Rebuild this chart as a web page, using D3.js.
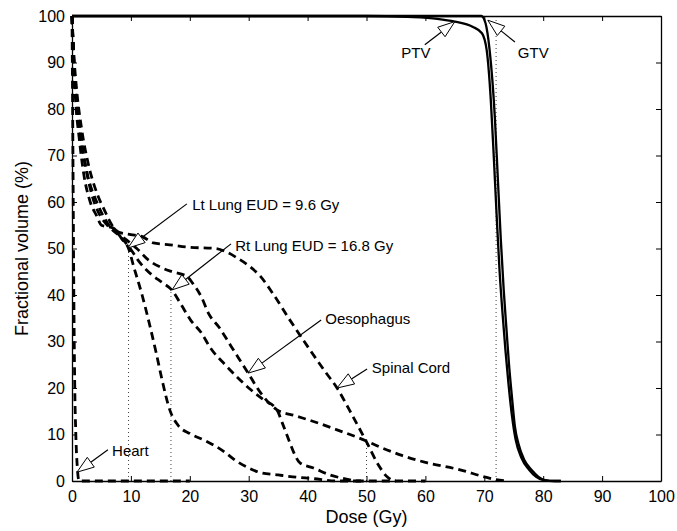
<!DOCTYPE html>
<html>
<head>
<meta charset="utf-8">
<script src="https://cdn.jsdelivr.net/npm/d3@7"></script>
<style>
  body { margin: 0; background: #fff; }
</style>
</head>
<body>
<div id="chart"></div>
<script>
// DVH curves, [dose (Gy), fractional volume (%)]
const heart = [[0,100],[0.1,82],[0.2,62],[0.3,42],[0.45,22],[0.65,10],[0.9,3],[1.2,0],[20,0]];
const lungLt = [[0,100],[0.3,90],[0.6,82],[1.2,74],[2,66],[3.1,60],[4.2,57],[5,55],[7,54.4],[8.5,52],
  [9.6,50],[10.5,46],[11.9,40],[13.2,33.5],[14.3,27.5],[15.3,21.7],[16.6,15.3],[18,12],[20,10.2],
  [22.6,8.7],[25.5,6.6],[28,4.2],[30,2.8],[32,1.8],[35,1.3],[37.5,0.9],[41,0.5],[45,0],[50,0]];
const lungRt = [[0,100],[0.3,91],[0.7,83],[1.4,75],[2.4,67],[3.5,61],[4.8,57],[6,55],[8,52.8],
  [9.6,50.5],[11.5,47],[13.6,44.3],[15.3,42.7],[17,41],[18.5,38],[20.2,34.5],[22,31.8],[23.4,28.8],
  [26,25],[28,22.4],[30,20],[32.5,17.5],[34.8,15.3],[35.7,12.5],[37,8.2],[37.7,6],[38.7,3.9],
  [41,2.8],[43.8,1.3],[47,0.3],[48,0],[55,0]];
const oesophagus = [[0,100],[0.3,90],[0.8,81],[1.6,73],[2.6,66],[4.2,60],[5.3,57],[6.5,54.6],
  [8,53],[9.6,51.5],[11,50],[13,47.5],[15,46],[17,45],[19.5,44],[20.5,42.5],[22,39.5],[23.2,36],
  [25,33],[27,29],[29.9,23.2],[32,19],[34.8,15.3],[38,14],[41,12.8],[45,11],[50,8.6],[52.3,7.3],
  [56,5.5],[60,4],[65.9,2.4],[70,0.9],[72,0.3],[74,0]];
const spinalCord = [[0,100],[0.3,92],[0.8,84],[1.6,76],[2.8,68],[4.2,62],[5.6,58],[6.8,55],[8,53.5],
  [10,53],[12,52.5],[13.8,51.2],[16.6,50.8],[19.5,50.3],[24.3,50],[26.3,49.2],[28,48],[30,46.3],
  [32,44],[34,40.5],[37,34.6],[40.4,28.2],[43,23.5],[45,20],[47,15.5],[50,8.4],[52,3.5],[53.5,0.9],
  [55,0],[60,0]];
const ptv = [[0,100],[50,100],[57,99.8],[62,99.4],[65,98.8],[68,97.7],[69.6,96.3],[70.4,92.7],
  [71.1,82],[71.6,70],[72.1,57],[72.6,45],[73.1,36],[73.6,28],[74.1,21],[74.7,14],[75.3,9],
  [76.3,5],[77.6,2.4],[78.8,0.9],[80,0.2],[82,0],[83,0]];
const gtv = [[0,100],[69.5,100],[70.2,98.5],[70.9,92.7],[71.8,78],[72.3,65],[72.8,52],[73.3,41],
  [73.8,32],[74.2,25],[74.7,18],[75.2,11.7],[75.8,8],[76.8,4.5],[78,2.4],[79.2,0.9],[80.3,0.2],
  [82,0],[83,0]];

// dotted markers: [dose, height]
const markers = [[9.6,50],[16.8,41],[50,8.5],[72,100]];

// annotations: text, text anchor point, line start, arrow tip (all in data units)
const labels = ['Lt Lung EUD = 9.6 Gy','Rt Lung EUD = 16.8 Gy','Oesophagus','Spinal Cord','Heart','PTV','GTV'];
const labelAt = [[20.4,59.4],[27.7,50.5],[43,35],[50.9,24.3],[6.8,6.5],[55.9,92],[75.7,92]];
const lineFrom = [[19.5,59.6],[27,51],[42.3,34.6],[50.1,24.1],[6.1,6.7],[59.9,93.8],[75.2,94.4]];
const arrowTip = [[9.5,50.1],[17,41.1],[29.9,23.2],[45,20],[0.85,1.9],[65,98.8],[70.6,99.1]];

const xTicks = d3.range(0, 101, 10);
const yTicks = d3.range(0, 101, 10);

const font = "'Liberation Sans', Arial, Helvetica, sans-serif";
const W = 677, H = 531;
const margin = { top: 16, right: 16, bottom: 50, left: 72 };

const svg = d3.select('#chart').append('svg')
  .attr('width', W).attr('height', H)
  .style('font-family', font);

const x = d3.scaleLinear().domain([0, 100]).range([margin.left, W - margin.right]);
const y = d3.scaleLinear().domain([0, 100]).range([H - margin.bottom, margin.top]);

// dotted EUD / prescription markers
svg.append('g').selectAll('line')
  .data(markers)
  .join('line')
  .attr('x1', d => x(d[0])).attr('x2', d => x(d[0]))
  .attr('y1', y(0)).attr('y2', d => y(d[1]))
  .attr('stroke', '#444').attr('stroke-width', 1)
  .attr('stroke-dasharray', '1,3');

const line = d3.line()
  .x(d => x(d[0]))
  .y(d => y(d[1]))
  .curve(d3.curveMonotoneX);

// organs at risk, dashed
svg.append('g').selectAll('path')
  .data([heart, lungLt, lungRt, oesophagus, spinalCord])
  .join('path')
  .attr('d', line)
  .attr('fill', 'none')
  .attr('stroke', '#000')
  .attr('stroke-width', 2.8)
  .attr('stroke-dasharray', '8,5');

// targets, solid
svg.append('g').selectAll('path')
  .data([ptv, gtv])
  .join('path')
  .attr('d', line)
  .attr('fill', 'none')
  .attr('stroke', '#000')
  .attr('stroke-width', 2.3);

// axes (matlab style: inward ticks on all sides)
const xAxis = svg.append('g')
  .attr('transform', `translate(0,${y(0)})`)
  .call(d3.axisBottom(x).tickValues(xTicks).tickSizeInner(-5).tickSizeOuter(0).tickPadding(10));
const yAxis = svg.append('g')
  .attr('transform', `translate(${x(0)},0)`)
  .call(d3.axisLeft(y).tickValues(yTicks).tickSizeInner(-5).tickSizeOuter(0).tickPadding(7));
svg.append('g')
  .attr('transform', `translate(0,${y(100)})`)
  .call(d3.axisTop(x).tickValues(xTicks).tickSizeInner(-5).tickSizeOuter(0).tickFormat(''));
svg.append('g')
  .attr('transform', `translate(${x(100)},0)`)
  .call(d3.axisRight(y).tickValues(yTicks).tickSizeInner(-5).tickSizeOuter(0).tickFormat(''));

svg.selectAll('.domain').attr('stroke', '#000').attr('stroke-width', 1.3);
svg.selectAll('.tick line').attr('stroke', '#000').attr('stroke-width', 1);
[xAxis, yAxis].forEach(a => a.selectAll('text')
  .attr('fill', '#000').attr('font-size', '16px').style('font-family', font));

// axis titles
svg.append('text')
  .attr('x', (x(0) + x(100)) / 2).attr('y', 523)
  .attr('text-anchor', 'middle').attr('font-size', '18px')
  .text('Dose (Gy)');
svg.append('text')
  .attr('transform', `translate(28,${(y(0) + y(100)) / 2}) rotate(-90)`)
  .attr('text-anchor', 'middle').attr('font-size', '18px')
  .text('Fractional volume (%)');

// annotation arrows
const ann = svg.append('g');
labels.forEach((t, i) => {
  const tx = x(arrowTip[i][0]), ty = y(arrowTip[i][1]);
  const sx = x(lineFrom[i][0]), sy = y(lineFrom[i][1]);
  const dx = sx - tx, dy = sy - ty, len = Math.hypot(dx, dy);
  const ux = dx / len, uy = dy / len;
  const hl = 17, hw = 6;
  const bx = tx + ux * hl, by = ty + uy * hl;
  ann.append('line')
    .attr('x1', sx).attr('y1', sy).attr('x2', bx).attr('y2', by)
    .attr('stroke', '#000').attr('stroke-width', 1.2);
  ann.append('path')
    .attr('d', `M${tx},${ty}L${bx - uy * hw},${by + ux * hw}L${bx + uy * hw},${by - ux * hw}Z`)
    .attr('fill', '#fff').attr('stroke', '#000').attr('stroke-width', 1);
  ann.append('text')
    .attr('x', x(labelAt[i][0])).attr('y', y(labelAt[i][1]))
    .attr('dy', '0.35em').attr('font-size', '15px')
    .text(t);
});
</script>
</body>
</html>
